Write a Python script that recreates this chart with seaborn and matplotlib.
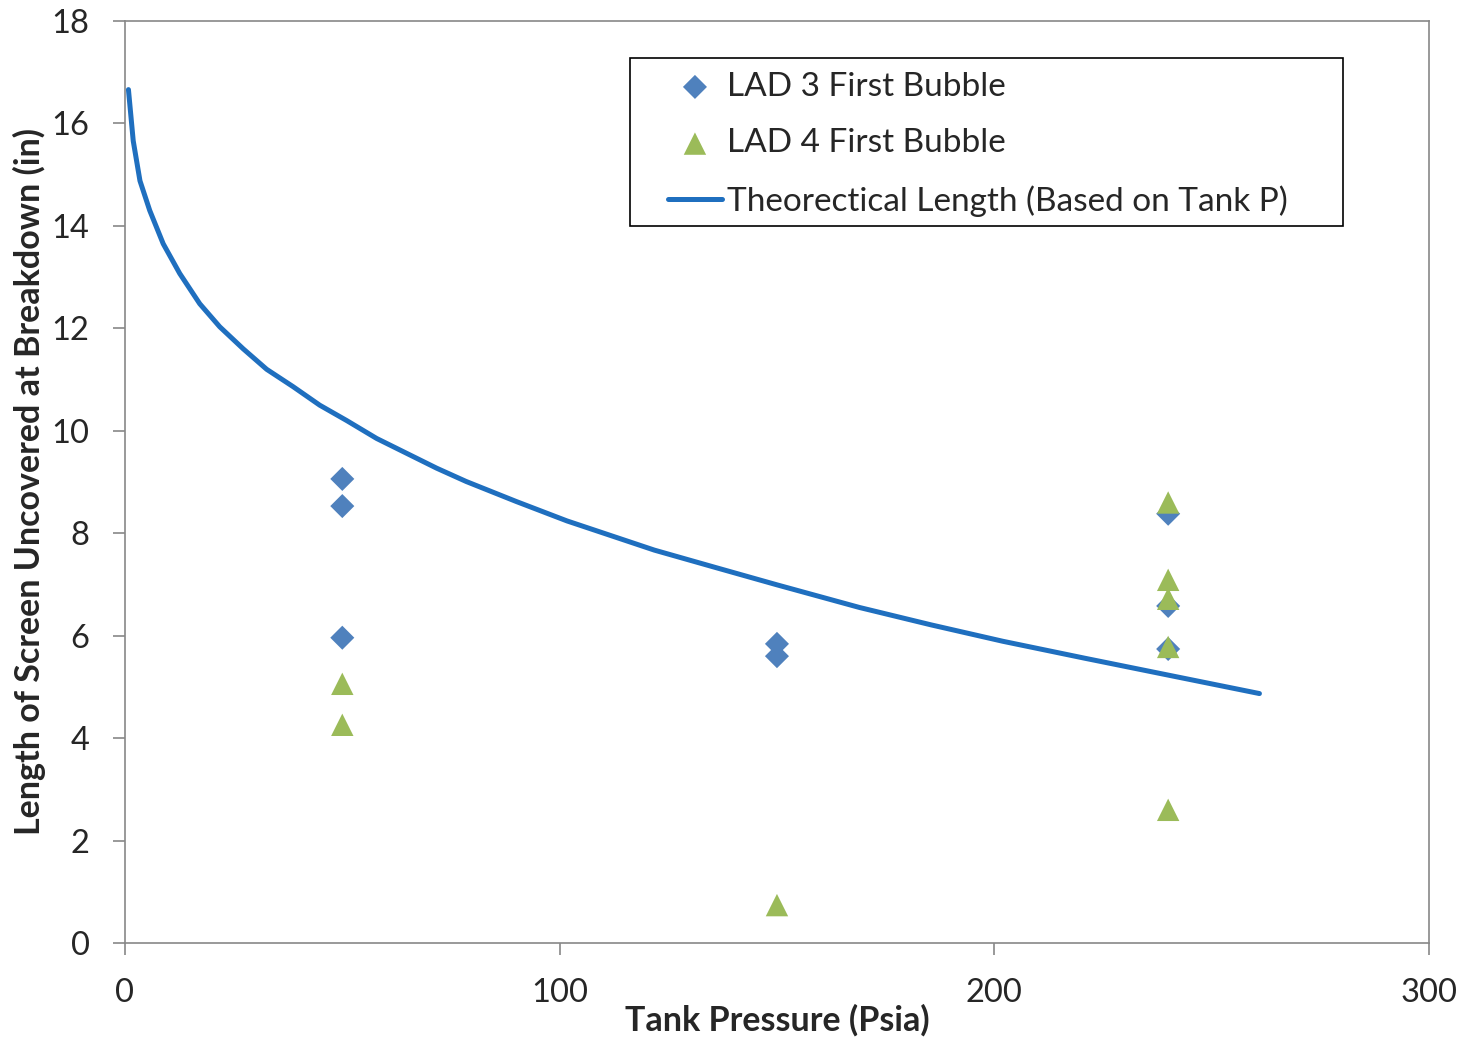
import matplotlib
matplotlib.use("Agg")
import matplotlib.pyplot as plt
from matplotlib.patches import Rectangle
import seaborn as sns
import pandas as pd

# Data
lad3_p = [50, 50, 50, 150, 150, 240, 240, 240]
lad3_len = [9.06, 8.53, 5.96, 5.84, 5.60, 8.38, 6.58, 5.74]
lad4_p = [50, 50, 150, 240, 240, 240, 240, 240]
lad4_len = [5.06, 4.26, 0.74, 8.60, 7.09, 6.72, 5.78, 2.60]
theo_p = [0.8, 1.9, 3.45, 5.7, 8.8, 12.6, 17.2, 21.8, 27.2, 32.6, 38.7, 44.8, 51, 57.9,
          64.8, 71.7, 78.5, 90, 101.7, 121.8, 135.9, 150.1, 169, 185.5, 202, 220.8,
          240.6, 261]
theo_len = [16.66, 15.66, 14.88, 14.3, 13.65, 13.07, 12.48, 12.03, 11.6, 11.2, 10.86, 10.5,
            10.2, 9.85, 9.56, 9.27, 9.01, 8.62, 8.24, 7.67, 7.33, 6.99, 6.55, 6.21, 5.89,
            5.56, 5.22, 4.87]

sns.set_theme(style="white")
plt.rcParams['font.family'] = ['Lato', 'DejaVu Sans']

fig = plt.figure(figsize=(14.65, 10.38), dpi=100)
ax = fig.add_axes([0.0853, 0.0915, 0.8901, 0.8883])

df3 = pd.DataFrame({"p": lad3_p, "L": lad3_len})
df4 = pd.DataFrame({"p": lad4_p, "L": lad4_len})
dft = pd.DataFrame({"p": theo_p, "L": theo_len})

sns.scatterplot(data=df3, x="p", y="L", ax=ax, marker="D", s=150, color="#4F81BD",
                edgecolor="none", label="LAD 3 First Bubble", zorder=3)
sns.scatterplot(data=df4, x="p", y="L", ax=ax, marker="^", s=260, color="#9BBB59",
                edgecolor="none", label="LAD 4 First Bubble", zorder=4)
sns.lineplot(data=dft, x="p", y="L", ax=ax, color="#1F6FBF", linewidth=3.6,
             label="Theorectical Length (Based on Tank P)", zorder=2)

ax.set_xlim(0, 300)
ax.set_ylim(0, 18)
ax.set_xticks([0, 100, 200, 300])
ax.set_yticks(range(0, 19, 2))
ax.tick_params(axis='both', which='major', labelsize=23.5, length=8.5, width=1.2,
               color="#888888", direction='out', bottom=True, left=True, pad=17)
for s in ax.spines.values():
    s.set_color("#888888")
    s.set_linewidth(1.2)

ax.set_xlabel("Tank Pressure (Psia)", fontsize=24.5, fontweight='bold')
ax.set_ylabel("Length of Screen Uncovered at Breakdown (in)", fontsize=24.5,
              fontweight='bold')
ax.xaxis.label.set_va('center')
ax.xaxis.set_label_coords(0.5, -0.084)
ax.yaxis.label.set_va('center')
ax.yaxis.set_label_coords(-0.0729, 0.5)

leg = ax.legend(loc='upper left', bbox_to_anchor=(0.4164, 0.945), fontsize=24,
                frameon=False, borderpad=0, labelspacing=0.8, handlelength=1.62,
                handletextpad=0.16, borderaxespad=0)
ax.add_patch(Rectangle((0.3873, 0.7777), 0.934 - 0.3873, 0.9599 - 0.7777,
                       transform=ax.transAxes, fill=False, edgecolor="black",
                       linewidth=1.2, zorder=5))

fig.savefig("out.png", dpi=100)
